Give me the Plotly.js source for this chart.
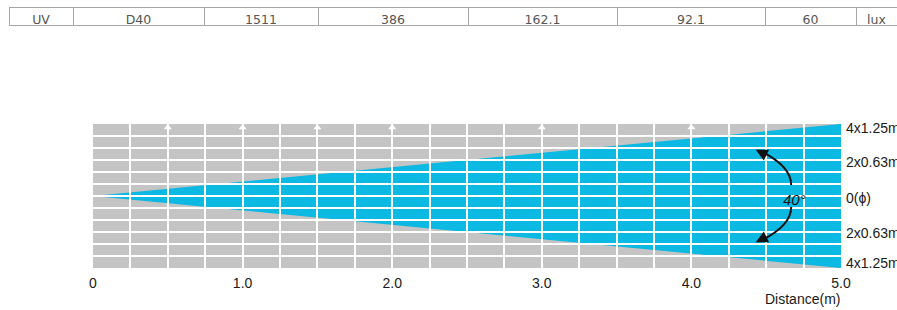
<!DOCTYPE html>
<html>
<head>
<meta charset="utf-8">
<script src="https://cdn.plot.ly/plotly-3.0.1.min.js"></script>
<style>html,body{margin:0;padding:0;background:#fff;}#chart{width:897px;height:310px;}</style>
</head>
<body>
<div id="chart"></div>
<script>
// ---- data ----
var tableLabels = ["UV", "D40", "1511", "386", "162.1", "92.1", "60", "lux"];
var tableColWidths = [64, 131, 114, 150, 149, 148, 91, 41];
var coneDistance = [0, 5, 5, 0];
var coneSpread = [0, 6, -6, 0];
var markerDistances = [0.5, 1, 1.5, 2, 3, 4];
var xTickVals = [0, 1, 2, 3, 4, 5];
var xTickText = ["0", "1.0", "2.0", "3.0", "4.0", "5.0"];
var sideLabelVals = [5.67, 2.85, -0.15, -3.1, -5.6];
var sideLabelText = ["4x1.25m", "2x0.63m", "0(\u03D5)", "2x0.63m", "4x1.25m"];

var gray = "#c4c4c4";
var blue = "#0bb9e3";
var axFont = {family: "Liberation Sans, Arial, sans-serif", size: 14, color: "#1a1a1a"};

var gridX = [];
for (var g = 1; g < 20; g++) gridX.push(g * 0.25);
var gridY = [];
for (var h = -5; h <= 5; h++) gridY.push(h);

var dom = {x: [93 / 897, 841 / 897], y: [1 - 268 / 310, 1 - 124 / 310]};

var traces = [
  {
    type: "table",
    domain: {x: [9 / 897, 1], y: [1 - 60 / 310, 1 - 7 / 310]},
    columnwidth: tableColWidths,
    header: {
      values: tableLabels,
      height: 18,
      align: "center",
      line: {color: "#a6a6a6", width: 1},
      fill: {color: "#ffffff"},
      font: {family: "DejaVu Sans, sans-serif", size: 12.5, color: "#555555"}
    },
    cells: {values: tableLabels.map(function () { return []; }), height: 18, line: {width: 0}}
  },
  {
    type: "scatter",
    x: coneDistance,
    y: coneSpread,
    xaxis: "x",
    yaxis: "y",
    mode: "lines",
    fill: "toself",
    fillcolor: blue,
    line: {width: 0, color: blue},
    hoverinfo: "skip",
    showlegend: false
  },
  {
    type: "scatter",
    x: markerDistances,
    y: markerDistances.map(function () { return 5.7; }),
    xaxis: "x2",
    yaxis: "y2",
    mode: "markers",
    marker: {symbol: "triangle-up", size: 7, color: "#ffffff"},
    hoverinfo: "skip",
    showlegend: false
  }
];

var layout = {
  width: 897,
  height: 310,
  margin: {l: 0, r: 0, t: 0, b: 0},
  paper_bgcolor: "#ffffff",
  plot_bgcolor: "rgba(0,0,0,0)",
  showlegend: false,
  xaxis: {
    domain: dom.x, range: [0, 5], anchor: "y",
    showgrid: false, zeroline: false, showline: false,
    tickmode: "array", tickvals: xTickVals, ticktext: xTickText,
    ticks: "", ticklabelstandoff: 5, tickfont: axFont, fixedrange: true
  },
  yaxis: {
    domain: dom.y, range: [-6, 6], anchor: "x", side: "right",
    showgrid: false, zeroline: false, showline: false,
    tickmode: "array", tickvals: sideLabelVals, ticktext: sideLabelText,
    ticks: "", ticklabelstandoff: 4, tickfont: axFont, fixedrange: true
  },
  xaxis2: {
    domain: dom.x, range: [0, 5], anchor: "y2",
    showgrid: true, gridcolor: "#ffffff", gridwidth: 2,
    tickmode: "array", tickvals: gridX,
    showticklabels: false, ticks: "", zeroline: false, showline: false, fixedrange: true
  },
  yaxis2: {
    domain: dom.y, range: [-6, 6], anchor: "x2",
    showgrid: true, gridcolor: "#ffffff", gridwidth: 2,
    tickmode: "array", tickvals: gridY,
    showticklabels: false, ticks: "", zeroline: false, showline: false, fixedrange: true
  },
  shapes: [
    {type: "rect", xref: "x domain", yref: "y domain", x0: 0, x1: 1, y0: 0, y1: 1,
     fillcolor: gray, line: {width: 0}, layer: "below"},
    {type: "path", xref: "x", yref: "y", layer: "above",
     path: "M4.667,0.92 Q4.667,2.5 4.46,3.75", line: {color: "#111", width: 2}},
    {type: "path", xref: "x", yref: "y", layer: "above",
     path: "M4.667,-0.92 Q4.667,-2.5 4.46,-3.75", line: {color: "#111", width: 2}}
  ],
  annotations: [
    {xref: "x", yref: "y", x: 4.43, y: 3.85, ax: 10, ay: 5, text: "", showarrow: true,
     arrowhead: 2, arrowsize: 1.2, arrowwidth: 2, arrowcolor: "#111"},
    {xref: "x", yref: "y", x: 4.43, y: -3.85, ax: 10, ay: -5, text: "", showarrow: true,
     arrowhead: 2, arrowsize: 1.2, arrowwidth: 2, arrowcolor: "#111"},
    {xref: "x", yref: "y", x: 4.69, y: -0.33, text: "<i>40\u00B0</i>", showarrow: false,
     font: {family: "Liberation Sans, Arial, sans-serif", size: 15, color: "#111"}},
    {xref: "paper", yref: "paper", x: 842 / 897, y: 1 - 299 / 310, xanchor: "right", yanchor: "middle",
     text: "Distance(m)", showarrow: false, font: axFont}
  ]
};

Plotly.newPlot("chart", traces, layout, {displayModeBar: false, staticPlot: true});
</script>
</body>
</html>
